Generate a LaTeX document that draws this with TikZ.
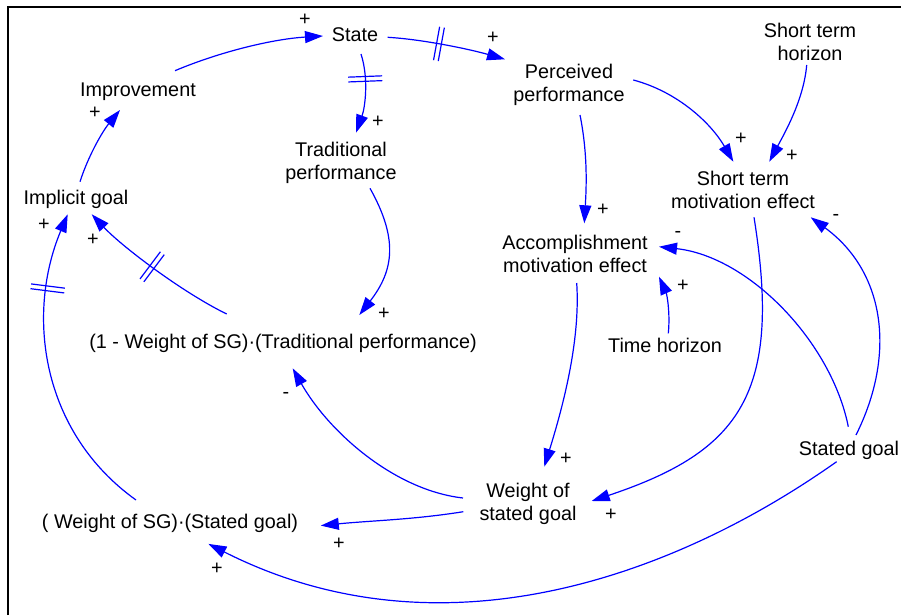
\documentclass[tikz,border=0pt]{standalone}
\usepackage{fontspec}
\setmainfont{Liberation Sans}
\usetikzlibrary{arrows.meta}
\definecolor{linkblue}{RGB}{0,0,255}
\newcommand{\varfont}{\fontsize{19.8}{23}\selectfont}
\newcommand{\ls}{\strut}
\begin{document}
\begin{tikzpicture}[x=1pt,y=-1pt,
  var/.style={inner sep=0pt, align=center, font=\varfont},
  pol/.style={inner sep=0pt, anchor=base, font=\varfont},
  link/.style={draw=linkblue, line width=1.2pt, -{Triangle[length=18pt,width=12pt]}},
  frame/.style={line width=2pt, draw=black},
  hashmark/.pic={\draw[-, draw=linkblue, line width=1.2pt] (-2.4,-17) -- (-2.4,17) (2.4,-17) -- (2.4,17);}
]
\useasboundingbox (0,0) rectangle (901,615);
% outer frame (left and top edges)
\draw[frame] (7.7,615) -- (7.7,6.7) -- (901,6.7);

% variables
\node[var] (state) at (355,37)  {\ls State};
\node[var] (impr)  at (138,92)  {\ls Improvement};
\node[var] (impl)  at (76,200)  {\ls Implicit goal};
\node[var] (trad)  at (341,163) {\ls Traditional\\\ls performance};
\node[var] (wtp)   at (283,344) {\ls (1 - Weight of SG)·(Traditional performance)};
\node[var] (wsg)   at (170,524) {\ls ( Weight of SG)·(Stated goal)};
\node[var] (perc)  at (569,85)  {\ls Perceived\\\ls performance};
\node[var] (sth)   at (810,44)  {\ls Short term\\\ls horizon};
\node[var] (stme)  at (743,192) {\ls Short term\\\ls motivation effect};
\node[var] (ame)   at (575,256) {\ls Accomplishment\\\ls motivation effect};
\node[var] (th)    at (665,348) {\ls Time horizon};
\node[var] (sg)    at (849,451) {\ls Stated goal};
\node[var] (wosg)  at (528,504) {\ls Weight of\\\ls stated goal};

% causal links
\draw[link] ([shift={(37,-21.3)}]impr.center) .. controls +(45,-19) and +(-50,3) .. ([shift={(-32,-1)}]state.center);
\draw[link] ([shift={(32.7,0.3)}]state.center) .. controls +(35,2) and +(-35,-10) .. ([shift={(-64,-25.7)}]perc.center) pic[pos=0.44,sloped]{hashmark};
\draw[link] ([shift={(6,17)}]state.center) .. controls +(8,25) and +(9,-25) .. ([shift={(15,-30.3)}]trad.center) pic[pos=0.32,sloped]{hashmark};
\draw[link] ([shift={(29,25.3)}]trad.center) .. controls +(28,50) and +(35,-45) .. ([shift={(76.3,-29)}]wtp.center);
\draw[link] ([shift={(-56.3,-30)}]wtp.center) .. controls +(-45,-22) and +(30,32) .. ([shift={(15.7,14.3)}]impl.center) pic[pos=0.51,sloped]{hashmark};
\draw[link] ([shift={(-34,-24)}]wsg.center) .. controls +(-95,-68) and +(-42,100) .. ([shift={(-8.3,14.3)}]impl.center) pic[pos=0.76,sloped]{hashmark};
\draw[link] ([shift={(4,-18.3)}]impl.center) .. controls +(8,-25) and +(-18,22) .. ([shift={(-18,18)}]impr.center);
\draw[link] ([shift={(-65,-6)}]wosg.center) .. controls +(-70,-8) and +(35,62) .. ([shift={(9.7,24.3)}]wtp.center);
\draw[link] ([shift={(-64.7,7.7)}]wosg.center) .. controls +(-50,8) and +(50,-5) .. ([shift={(150.8,1.6)}]wsg.center);
\draw[link] ([shift={(-12.4,10.7)}]sg.center) .. controls +(-164,116) and +(231,117) .. ([shift={(38.4,19.9)}]wsg.center);
\draw[link] ([shift={(7,-16)}]sg.center) .. controls +(40,-80) and +(75,55) .. ([shift={(67.7,25.3)}]stme.center);
\draw[link] ([shift={(-0.7,-24.3)}]sg.center) .. controls +(-17,-85) and +(90,10) .. ([shift={(84,-9.3)}]ame.center);
\draw[link] ([shift={(11,25.3)}]stme.center) .. controls +(28,175) and +(150,-50) .. ([shift={(63.7,-3)}]wosg.center);
\draw[link] ([shift={(1.7,27)}]ame.center) .. controls +(4,60) and +(17,-55) .. ([shift={(16.3,-37.3)}]wosg.center);
\draw[link] ([shift={(3.3,-14.7)}]th.center) .. controls +(2,-20) and +(8,18) .. ([shift={(84,20.7)}]ame.center);
\draw[link] ([shift={(11,30)}]perc.center) .. controls +(8,40) and +(2,-35) .. ([shift={(9.3,-32.7)}]ame.center);
\draw[link] ([shift={(64.3,-5)}]perc.center) .. controls +(45,12) and +(-22,-38) .. ([shift={(-9.7,-30.3)}]stme.center);
\draw[link] ([shift={(-3.3,21)}]sth.center) .. controls +(-3,35) and +(15,-28) .. ([shift={(26.3,-30.3)}]stme.center);

% link polarities
\node[pol] (s1)  at (305,26)    {+};
\node[pol] (s2)  at (493,43.7)  {+};
\node[pol] (s3)  at (378,128)   {+};
\node[pol] (s4)  at (384,319)   {+};
\node[pol] (s5)  at (95,118)    {+};
\node[pol] (s6)  at (44,230)    {+};
\node[pol] (s7)  at (93,245)    {+};
\node[pol] (s8)  at (286,398.3) {-};
\node[pol] (s9)  at (339,549)   {+};
\node[pol] (s10) at (217,574)   {+};
\node[pol] (s11) at (603,215)   {+};
\node[pol] (s12) at (741,144)   {+};
\node[pol] (s13) at (792,161)   {+};
\node[pol] (s14) at (836,220.3) {-};
\node[pol] (s15) at (678,237.3) {-};
\node[pol] (s16) at (683,291)   {+};
\node[pol] (s17) at (566,464)   {+};
\node[pol] (s18) at (611,520)   {+};
\end{tikzpicture}
\end{document}
